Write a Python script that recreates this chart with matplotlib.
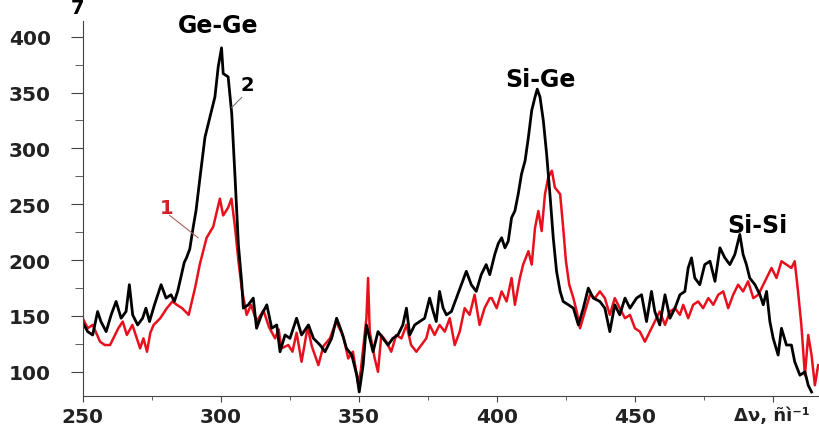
#raman spectra, curves 1 (red) and 2 (black)

import matplotlib.pyplot as plt
from matplotlib.ticker import MultipleLocator

#curve 2 (black)
black_x = [250, 251.8, 253.6, 255.4, 256.6, 258.5, 260.3, 262.1, 263.9, 265.7, 266.9, 268.1, 269.9,
	271.7, 272.9, 274.2, 276, 278.4, 280.2, 282, 283.2, 284.4, 285.6, 286.8, 287.6, 288.8, 290,
	291.1, 292.5, 294.3, 296.1, 297.9, 299.1, 300.3, 300.9, 302.7, 304, 305.2, 306.4, 307.6, 308.2,
	310, 311.8, 313, 314.8, 316.7, 318.5, 320.3, 321.5, 323.3, 325.1, 327.5, 329.3, 331.8, 333.6,
	336, 337.8, 340.2, 342, 343.8, 345.6, 347.5, 349.3, 350.2, 351.6, 352.8, 354, 355.2, 357,
	358.8, 360.6, 362.4, 364.2, 366, 367.3, 368.5, 370.3, 372.1, 373.9, 375.7, 377, 378.1, 379.3,
	380.6, 381.8, 383.6, 385.4, 387.2, 389, 390.8, 392.6, 394.4, 396.2, 397.5, 399.3, 400.6, 401.8,
	403, 404.2, 405.4, 406.6, 407.8, 409, 410.3, 411.5, 412.7, 413.9, 414.7, 415.7, 416.9, 418.1,
	419.3, 420.5, 421.7, 423, 424.1, 426, 427.8, 429.6, 431.4, 433.2, 435, 437.4, 439.2, 441,
	442.8, 444.6, 446.5, 448.3, 450.7, 452.5, 454.3, 456.1, 457.3, 459.1, 461, 462.8, 464.6, 466.4,
	468.2, 469.4, 470.6, 471.8, 473.6, 475.4, 477.3, 479.1, 480.9, 482.7, 484.5, 486.3, 488.1, 489.3,
	490.5, 491.7, 493.6, 495.4, 496.6, 497.8, 499, 500.2, 502, 503.2, 505, 506.8, 508, 509.9,
	511.7, 512.9, 514.1]
black_y = [144, 136, 133, 154, 145, 136, 151, 163, 148, 154, 178, 151, 142,
	148, 157, 145, 160, 178, 166, 169, 163, 172, 185, 198, 202, 210, 229,
	245, 274, 310, 328, 346, 373, 390, 367, 364, 331, 274, 214, 180, 157,
	160, 166, 139, 151, 160, 139, 142, 118, 133, 130, 148, 133, 142, 130,
	124, 118, 130, 148, 136, 121, 115, 97, 82, 106, 142, 130, 118, 136,
	130, 124, 130, 133, 142, 157, 133, 142, 145, 148, 166, 154, 145, 172,
	157, 151, 154, 166, 178, 190, 178, 172, 187, 196, 187, 205, 215, 220,
	211, 217, 238, 244, 259, 277, 289, 310, 334, 346, 353, 346, 325, 295,
	259, 220, 190, 172, 163, 160, 157, 142, 157, 175, 166, 163, 157, 136,
	160, 151, 166, 157, 166, 169, 145, 172, 154, 142, 169, 148, 157, 169,
	172, 193, 202, 184, 178, 196, 199, 181, 211, 202, 196, 205, 223, 205,
	196, 184, 178, 169, 160, 172, 145, 130, 115, 139, 124, 124, 109, 97,
	100, 88, 82]

#curve 1 (red)
red_x = [250, 251.8, 253.6, 256.3, 258, 259.9, 262.9, 264.5, 266, 268, 270.8, 272, 273.3, 274.5,
	275.7, 278.1, 280.5, 282.5, 284.1, 286, 288.4, 290.7, 292.5, 294.9, 297.3, 299.7, 300.9, 302.7,
	303.9, 305.2, 306.4, 307.6, 309.4, 311, 313, 315.5, 317.5, 319.7, 321, 322, 324.5, 326, 327.5,
	329.3, 331.5, 333, 335.4, 337.2, 339.6, 341.8, 344.4, 346.2, 347.9, 349.8, 350.7, 352.8, 353.4,
	354, 355.8, 357, 358.2, 360, 361.8, 363.6, 365.5, 367.3, 369, 370.9, 372.7, 374.5, 375.7, 377.5,
	379.3, 381.2, 383, 384.8, 386.6, 388.4, 390.2, 392, 393.8, 395.6, 397.5, 398.2, 400, 401.8,
	403.6, 405.4, 406.6, 408.4, 409.6, 411.5, 412.7, 413.9, 415.1, 416.3, 417.5, 418.7, 420, 421.1,
	423, 424.1, 425.1, 426.3, 427.8, 429, 430.2, 432, 433.8, 435.6, 437.4, 439.2, 441, 442.8,
	444.6, 446.5, 448.3, 450.1, 451.9, 453.7, 455.5, 457.3, 459.1, 461, 462.8, 464.6, 466.4, 467.6,
	469.4, 471.2, 473, 474.8, 476.7, 478.5, 480.3, 482.1, 483.9, 485.7, 487.5, 489.3, 491.1, 493,
	494.8, 496.6, 498.4, 499.6, 501.4, 503.2, 505, 506.8, 508, 509.2, 510.4, 511.7, 512.9, 514.1,
	515.3, 516.5]
red_y = [148, 139, 142, 127, 124, 124, 139, 145, 133, 142, 121, 130, 118, 135,
	142, 148, 157, 163, 160, 157, 151, 175, 197, 220, 230, 255, 240, 247,
	255, 229, 200, 175, 151, 160, 145, 155, 140, 130, 138, 121, 124, 118, 135,
	109, 140, 123, 106, 123, 130, 145, 132, 112, 118, 90, 100, 148, 184,
	136, 112, 100, 133, 127, 118, 133, 130, 142, 124, 118, 124, 130, 142, 133,
	142, 136, 148, 124, 136, 157, 151, 169, 142, 157, 166, 166, 157, 172,
	163, 184, 160, 184, 196, 208, 196, 229, 244, 226, 259, 274, 280, 265,
	259, 229, 199, 178, 166, 154, 139, 154, 169, 166, 172, 166, 151, 166,
	157, 148, 151, 139, 136, 127, 136, 145, 154, 142, 154, 157, 151, 160,
	148, 160, 163, 157, 166, 160, 169, 172, 157, 169, 178, 172, 181, 166,
	169, 178, 187, 193, 184, 199, 196, 193, 199, 172, 142, 97, 133, 115,
	88, 106]

x_ticks = [250, 300, 350, 400, 450, 500]
x_labels = ['250', '300', '350', '400', '450', '']
y_ticks = [100, 150, 200, 250, 300, 350, 400]

fig = plt.figure(figsize=(8.19, 4.35), dpi=100)
ax = fig.add_axes([0.101, 0.0874, 0.899, 0.862])

ax.plot(red_x, red_y, color='#e8101c', linewidth=1.8)
ax.plot(black_x, black_y, color='black', linewidth=2.0)

ax.set_xlim(250, 516.8)
ax.set_ylim(78.4, 414)
ax.spines['top'].set_visible(False)
ax.spines['right'].set_visible(False)
ax.spines['left'].set_color('#444444')
ax.spines['bottom'].set_color('#444444')

ax.set_xticks(x_ticks)
ax.set_xticklabels(x_labels)
ax.set_yticks(y_ticks)
ax.xaxis.set_minor_locator(MultipleLocator(25))
ax.yaxis.set_minor_locator(MultipleLocator(25))
ax.tick_params(axis='both', which='major', labelsize=14.5, colors='#444444', labelcolor='#222222')
ax.tick_params(axis='x', which='major', length=4, pad=4)
ax.tick_params(axis='x', which='minor', length=3, colors='#444444')
ax.tick_params(axis='y', which='major', length=9, pad=14)
ax.tick_params(axis='y', which='minor', length=6, colors='#444444')
for lab in ax.get_xticklabels() + ax.get_yticklabels():
	lab.set_fontweight('bold')

#peak labels
ax.text(299, 410, 'Ge-Ge', fontsize=17, fontweight='bold', ha='center', va='center')
ax.text(416, 362, 'Si-Ge', fontsize=17, fontweight='bold', ha='center', va='center')
ax.text(494.6, 231, 'Si-Si', fontsize=17, fontweight='bold', ha='center', va='center')

#curve numbers with leader lines
ax.text(309.5, 357, '2', fontsize=14, fontweight='bold', ha='center', va='center')
ax.plot([304, 307.6], [336.6, 345.6], color='#777777', linewidth=0.8)
ax.text(280.5, 247, '1', fontsize=14, fontweight='bold', ha='center', va='center', color='#d0202a')
ax.plot([281.5, 291.8], [240, 220], color='#b06060', linewidth=0.8)

#axis label (garbled in the source)
ax.text(486, 61, 'Δν, ñì⁻¹', fontsize=13, fontweight='bold', ha='left', va='center',
	color='#222222', clip_on=False)
fig.text(78 / 819, 1 - 9 / 435, '7', fontsize=14, fontweight='bold', ha='center', va='center')

plt.savefig('out.png')
